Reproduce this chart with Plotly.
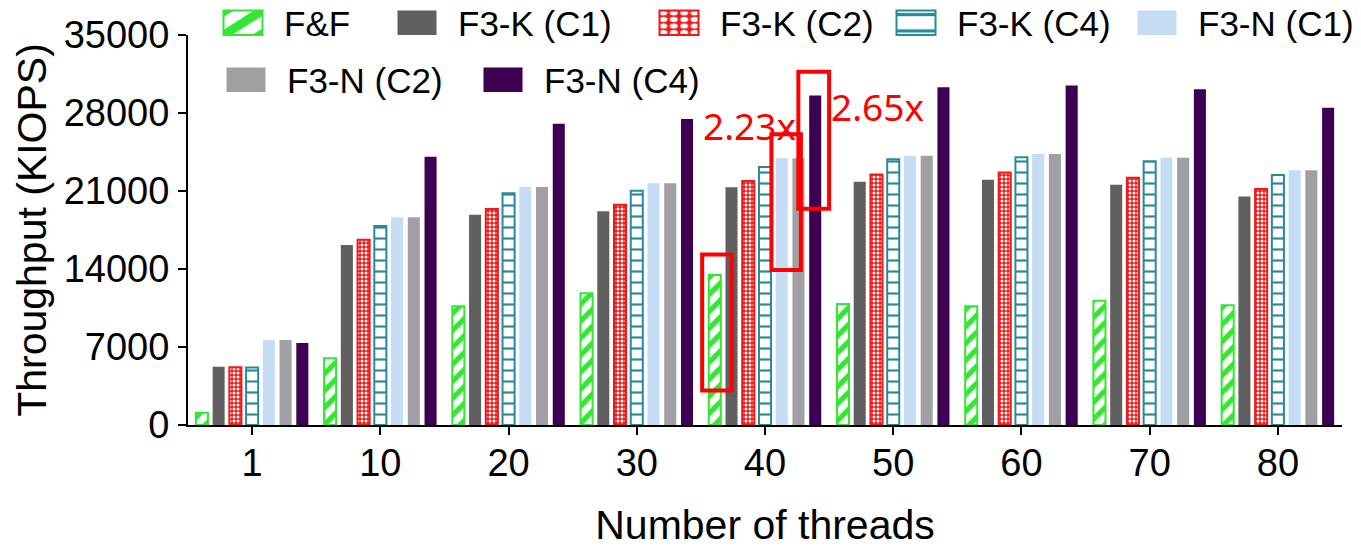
import plotly.graph_objects as go

# ---------------- data ----------------
threads = ["1", "10", "20", "30", "40", "50", "60", "70", "80"]
ff     = [1100, 5990, 10650, 11820, 13460, 10860, 10650, 11160, 10740]
k_c1   = [5230, 16150, 18870, 19180, 21340, 21840, 22020, 21570, 20500]
k_c2   = [5180, 16630, 19380, 19770, 21900, 22470, 22650, 22200, 21180]
k_c4   = [5150, 17860, 20790, 21030, 23160, 23850, 24030, 23670, 22440]
n_c1   = [7630, 18640, 21360, 21690, 23940, 24170, 24330, 23990, 22860]
n_c2   = [7630, 18640, 21360, 21690, 23940, 24170, 24330, 23990, 22860]
n_c4   = [7360, 24080, 27040, 27460, 29560, 30300, 30460, 30130, 28460]
series_names = ["F&F", "F3-K (C1)", "F3-K (C2)", "F3-K (C4)",
                "F3-N (C1)", "F3-N (C2)", "F3-N (C4)"]
y_ticks = [0, 7000, 14000, 21000, 28000, 35000]
speedup_labels = ["2.23x", "2.65x"]

FONT = "Liberation Sans, Arial, Helvetica, sans-serif"
GREEN = "#33E633"
RED = "#F01818"
TEAL = "#2A8A9C"

# plot-area geometry (pixels) used to place legend entries
L, R, T, B = 188, 19, 35, 123
PW, PH = 1361 - L - R, 548 - T - B

fig = go.Figure()

def add_bar(name, vals, color, legend, pattern=None, line_color=None):
    marker = dict(color=color,
                  line=dict(color=line_color or color, width=2 if pattern else 0))
    if pattern:
        marker["pattern"] = pattern
    fig.add_trace(go.Bar(name=name, x=threads, y=vals, marker=marker, legend=legend))

legend_ids = ["legend", "legend2", "legend3", "legend4", "legend5", "legend6", "legend7"]

add_bar(series_names[0], ff, "white", legend_ids[0],
        pattern=dict(shape="/", fgcolor=GREEN, bgcolor="white", size=12, solidity=0.45,
                     fillmode="replace"), line_color=GREEN)
add_bar(series_names[1], k_c1, "#606060", legend_ids[1])
add_bar(series_names[2], k_c2, RED, legend_ids[2],
        pattern=dict(shape=".", fgcolor="white", bgcolor=RED, size=4, solidity=0.45,
                     fillmode="replace"), line_color=RED)
add_bar(series_names[3], k_c4, "white", legend_ids[3],
        pattern=dict(shape="-", fgcolor=TEAL, bgcolor="white", size=11, solidity=0.2,
                     fillmode="replace"), line_color=TEAL)
add_bar(series_names[4], n_c1, "#C6DCF4", legend_ids[4])
add_bar(series_names[5], n_c2, "#A0A0A4", legend_ids[5])
add_bar(series_names[6], n_c4, "#3E0050", legend_ids[6])

# highlight boxes around the bars at 40 threads (category index 4)
boxes = [
    dict(x0=3.51, x1=3.74, y0=3100, y1=15300),
    dict(x0=4.05, x1=4.28, y0=13900, y1=26100),
    dict(x0=4.26, x1=4.50, y0=19400, y1=31700),
]
for b in boxes:
    fig.add_shape(type="rect", xref="x", yref="y", line=dict(color="#FF0000", width=4),
                  fillcolor="rgba(0,0,0,0)", **b)

fig.add_annotation(x=3.88, y=26900, xref="x", yref="y", text=speedup_labels[0],
                   showarrow=False, font=dict(family="Noto Sans, Open Sans", size=37, color="#FF0000"))
fig.add_annotation(x=4.88, y=28600, xref="x", yref="y", text=speedup_labels[1],
                   showarrow=False, font=dict(family="Noto Sans, Open Sans", size=37, color="#FF0000"))

# legend entry text-start pixel positions (x) and row centres (y)
text_x = [284, 458, 720, 957, 1198, 287, 544]
row_y = [23, 23, 23, 23, 23, 80, 80]
legends = {}
for lid, tx, ty in zip(legend_ids, text_x, row_y):
    legends[lid] = dict(
        orientation="h", font=dict(family=FONT, size=35, color="black"),
        bgcolor="rgba(0,0,0,0)", itemwidth=30, yanchor="middle", xanchor="left",
        x=(tx - 40 - L) / PW, y=(548 - B - ty) / PH, itemclick=False,
        borderwidth=0)

fig.update_layout(
    width=1361, height=548,
    margin=dict(l=L, r=R, t=T, b=B, autoexpand=False),
    paper_bgcolor="white", plot_bgcolor="white",
    barmode="group", bargap=0.086, bargroupgap=0.28,
    font=dict(family=FONT, color="black"),
    showlegend=True,
    xaxis=dict(
        type="category", range=[-0.5, 8.5],
        showline=True, linecolor="black", linewidth=2,
        ticks="outside", ticklen=8, tickwidth=2, tickcolor="black",
        tickfont=dict(size=38), showgrid=False, zeroline=False, ticklabelstandoff=-5,
        title=dict(text="Number of threads", font=dict(size=41), standoff=35),
    ),
    yaxis=dict(
        range=[0, 35000], tickvals=y_ticks, ticktext=[str(v) for v in y_ticks],
        showline=True, linecolor="black", linewidth=2,
        ticks="outside", ticklen=8, tickwidth=2, tickcolor="black",
        tickfont=dict(size=38), showgrid=False, zeroline=False, ticklabelstandoff=1,
        title=dict(text="Throughput (KIOPS)", font=dict(size=41), standoff=4),
    ),
    **legends,
)

post = """
document.body.style.margin = '0';
var gd = document.getElementById('{plot_id}');
function fixLegend(){
  gd.querySelectorAll('.infolayer [clip-path]').forEach(function(e){
    e.removeAttribute('clip-path');
  });
  gd.querySelectorAll('.legendpoints path').forEach(function(p){
    p.setAttribute('transform', 'translate(-1,0) scale(3.25,2.05)');
    p.style.vectorEffect = 'non-scaling-stroke';
  });
}
fixLegend();
gd.on('plotly_afterplot', fixLegend);
"""

fig.write_html("out.html", post_script=post, config={"displayModeBar": False})
